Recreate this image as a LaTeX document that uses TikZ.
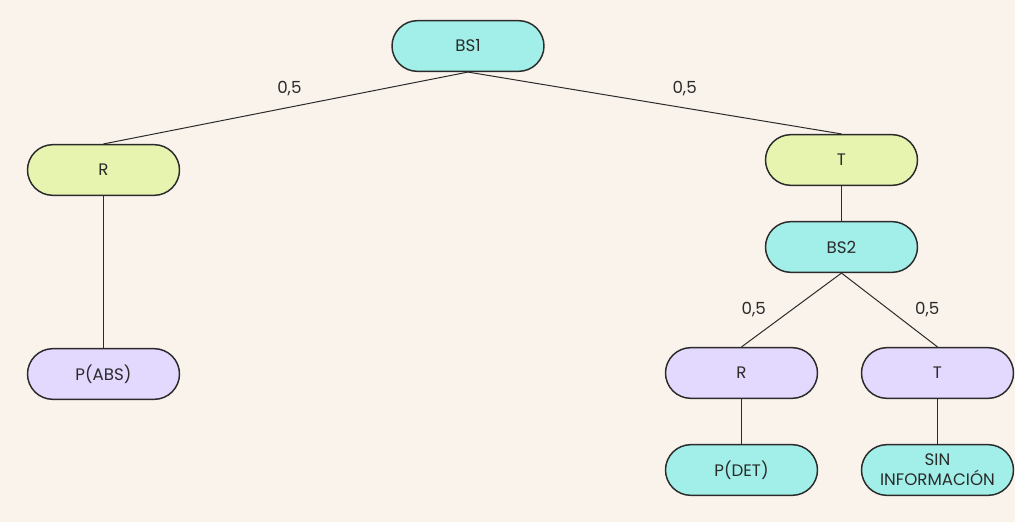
\documentclass[tikz,border=0pt]{standalone}
\usepackage{fontspec}
\setmainfont{Poppins}
\usetikzlibrary{positioning}
\definecolor{fondo}{HTML}{FAF3EC}
\definecolor{cian}{HTML}{A1EFE8}
\definecolor{lima}{HTML}{E6F4B0}
\definecolor{lila}{HTML}{E3D8FD}
\definecolor{tinta}{HTML}{2B2B2B}
\tikzset{
  caja/.style={draw=tinta, line width=1.1pt, rectangle, rounded corners=19pt,
    minimum width=114pt, minimum height=38pt, text=tinta, align=center,
    font=\fontsize{12.5}{14}\selectfont},
  prob/.style={text=tinta, inner sep=0pt, font=\fontsize{12.5}{14}\selectfont},
  rama/.style={draw=tinta, line width=0.75pt}
}

\begin{document}
\begin{tikzpicture}[x=0.75pt,y=-0.75pt]
    \fill[fondo] (0,0) rectangle (1015,522);
    \useasboundingbox (0,0) rectangle (1015,522);
    % nivel 1
    \node[caja, fill=cian] (bs1) at (468,46) {BS1};
    % nivel 2
    \node[caja, fill=lima] (r1) at (103.5,170) {R};
    \node[caja, fill=lima] (t1) at (841.5,160) {T};
    \node[caja, fill=cian] (bs2) at (841.5,247) {BS2};
    % nivel 3
    \node[caja, fill=lila] (pabs) at (103.5,374) {P(ABS)};
    \node[caja, fill=lila] (r2) at (741.5,373) {R};
    \node[caja, fill=lila] (t2) at (937.5,373) {T};
    \node[caja, fill=cian] (pdet) at (741.5,470) {P(DET)};
    \node[caja, fill=cian] (sininf) at (937.5,470) {SIN\\[1pt]INFORMACIÓN};
    \path[rama]
    (bs1.south) edge node[prob, pos=.49, yshift=14pt]{0,5} (r1.north)
    (bs1.south) edge node[prob, pos=.58, yshift=14.5pt]{0,5} (t1.north)
    (r1) edge (pabs)
    (t1) edge (bs2)
    (bs2.south) edge node[prob, pos=.49, xshift=-29pt]{0,5} (r2.north)
    (bs2.south) edge node[prob, pos=.49, xshift=29pt]{0,5} (t2.north)
    (r2) edge (pdet)
    (t2) edge (sininf);
\end{tikzpicture}
\end{document}
